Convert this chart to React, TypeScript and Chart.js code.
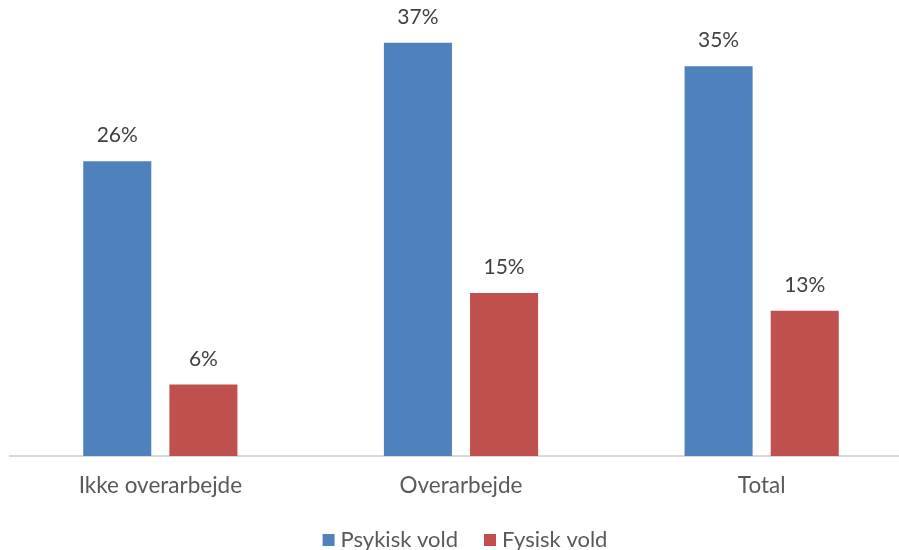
import React, { useEffect, useRef } from "react";
import { Chart, registerables } from "chart.js";

Chart.register(...registerables);

const categories = ["Ikke overarbejde", "Overarbejde", "Total"];
const psykiskVold = [26.4, 37.0, 34.9];
const fysiskVold = [6.4, 14.6, 13.0];
const seriesNames = ["Psykisk vold", "Fysisk vold"];
const seriesColors = ["#4f81bd", "#c0504d"];

const FONT = "Lato, 'Open Sans', sans-serif";

const valueLabels = {
  id: "valueLabels",
  afterDatasetsDraw(chart: any) {
    const ctx = chart.ctx;
    ctx.save();
    ctx.font = `21px ${FONT}`;
    ctx.fillStyle = "#404040";
    ctx.textAlign = "center";
    ctx.textBaseline = "bottom";
    chart.data.datasets.forEach((ds: any, i: number) => {
      const meta = chart.getDatasetMeta(i);
      meta.data.forEach((bar: any, j: number) => {
        ctx.fillText(Math.round(ds.data[j]) + "%", bar.x, bar.y - 15);
      });
    });
    ctx.restore();
  },
};

const customLegend = {
  id: "customLegend",
  afterDraw(chart: any) {
    const ctx = chart.ctx;
    ctx.save();
    ctx.font = `22px ${FONT}`;
    ctx.textBaseline = "middle";
    ctx.textAlign = "left";
    const box = 12, boxGap = 6, itemGap = 26;
    const items = chart.data.datasets.map((ds: any) => ({
      label: ds.label,
      color: ds.backgroundColor,
      w: ctx.measureText(ds.label).width,
    }));
    const total = items.reduce((s: number, it: any) => s + box + boxGap + it.w, 0) + itemGap * (items.length - 1);
    const cx = (chart.chartArea.left + chart.chartArea.right) / 2 + 4;
    let x = cx - total / 2;
    const y = 540;
    items.forEach((it: any) => {
      ctx.fillStyle = it.color;
      ctx.fillRect(x, y - box / 2, box, box);
      x += box + boxGap;
      ctx.fillStyle = "#595959";
      ctx.fillText(it.label, x, y);
      x += it.w + itemGap;
    });
    ctx.restore();
  },
};

export default function App() {
  const ref = useRef<HTMLCanvasElement>(null);
  useEffect(() => {
    const chart = new Chart(ref.current!, {
      type: "bar",
      data: {
        labels: categories,
        datasets: [
          { label: seriesNames[0], data: psykiskVold, backgroundColor: seriesColors[0] },
          { label: seriesNames[1], data: fysiskVold, backgroundColor: seriesColors[1] },
        ],
      },
      options: {
        animation: false,
        responsive: false,
        maintainAspectRatio: false,
        layout: { padding: { left: 10, right: 0, top: 0, bottom: 35 } },
        datasets: {
          bar: { categoryPercentage: 0.573, barPercentage: 0.79 },
        },
        scales: {
          x: {
            grid: { display: false, drawTicks: false },
            border: { color: "#d9d9d9", width: 2 },
            ticks: { color: "#595959", font: { size: 22.5, family: FONT }, padding: 16 },
          },
          y: {
            display: false,
            min: 0,
            max: 40.83,
          },
        },
        plugins: {
          legend: { display: false },
          tooltip: { enabled: false },
        },
      },
      plugins: [valueLabels, customLegend],
    });
    return () => chart.destroy();
  }, []);
  return (
    <div style={{ position: "fixed", left: 0, top: 0, width: 899, height: 550, overflow: "hidden", background: "#fff" }}>
      <canvas ref={ref} width={912} height={550} style={{ display: "block" }} />
    </div>
  );
}
